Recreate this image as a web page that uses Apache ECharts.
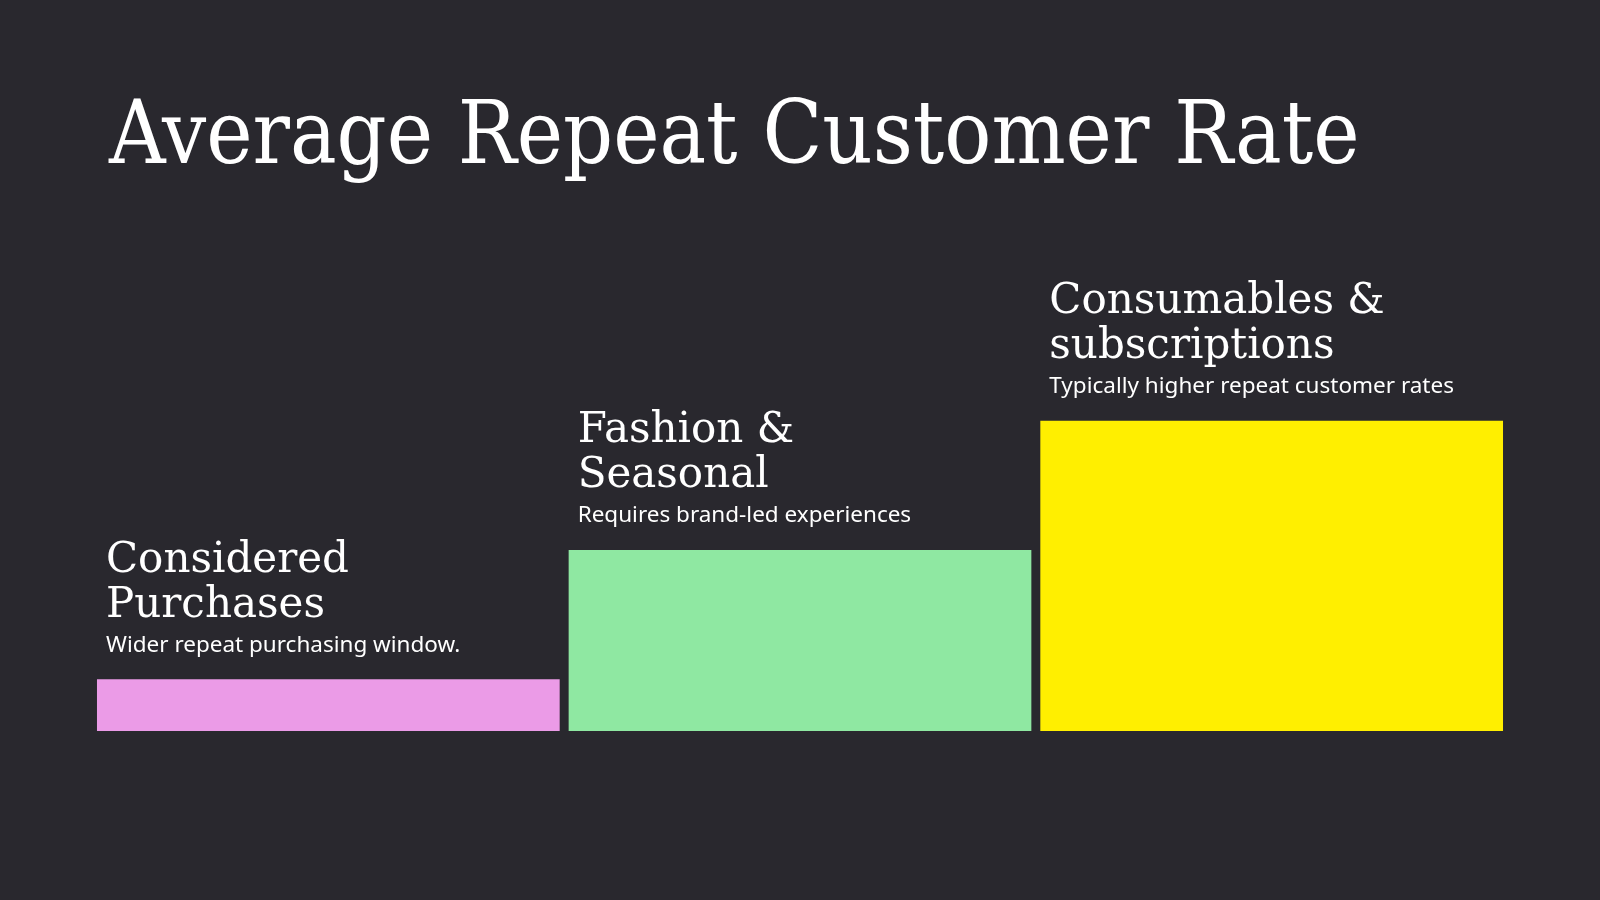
<!DOCTYPE html>
<html>
<head>
<meta charset="utf-8">
<script src="https://cdn.jsdelivr.net/npm/echarts@6/dist/echarts.min.js"></script>
<style>
html,body{margin:0;padding:0;background:#29282e;}
#chart{width:1600px;height:900px;}
</style>
</head>
<body>
<div id="chart"></div>
<script>
const chartTitle = 'Average Repeat Customer Rate';
const categories = ['Considered Purchases', 'Fashion & Seasonal', 'Consumables & subscriptions'];
const labelLines = [['Considered', 'Purchases'], ['Fashion &', 'Seasonal'], ['Consumables &', 'subscriptions']];
const subtitles = ['Wider repeat purchasing window.', 'Requires brand-led experiences', 'Typically higher repeat customer rates'];
const values = [10, 35, 60];
const colors = ['#eb9be7', '#8fe8a2', '#ffef00'];

const chart = echarts.init(document.getElementById('chart'));
chart.setOption({
  backgroundColor: '#29282e',
  animation: false,
  title: {
    text: chartTitle,
    left: 104,
    top: 92,
    textStyle: { fontFamily: '"DejaVu Serif Condensed", "DejaVu Serif"', fontSize: 87, fontWeight: 'normal', color: '#ffffff' }
  },
  grid: { left: 92.5, right: 92.5, top: 214, bottom: 169 },
  xAxis: { type: 'category', data: categories, show: false },
  yAxis: { type: 'value', min: 0, max: 100, show: false },
  series: [{
    type: 'bar',
    barCategoryGap: '1.9%',
    data: values.map((v, i) => ({
      value: v,
      itemStyle: { color: colors[i] },
      label: {
        formatter: labelLines[i].map(l => '{t|' + l + '}').join('\n') + '\n{s|' + subtitles[i] + '}'
      }
    })),
    label: {
      show: true,
      position: [9, -17],
      align: 'left',
      verticalAlign: 'bottom',
      rich: {
        t: { fontFamily: 'DejaVu Serif', fontSize: 42, lineHeight: 45, color: '#ffffff' },
        s: { fontFamily: 'Noto Sans', fontSize: 22.5, lineHeight: 34, color: '#ffffff' }
      }
    }
  }]
});
</script>
</body>
</html>
